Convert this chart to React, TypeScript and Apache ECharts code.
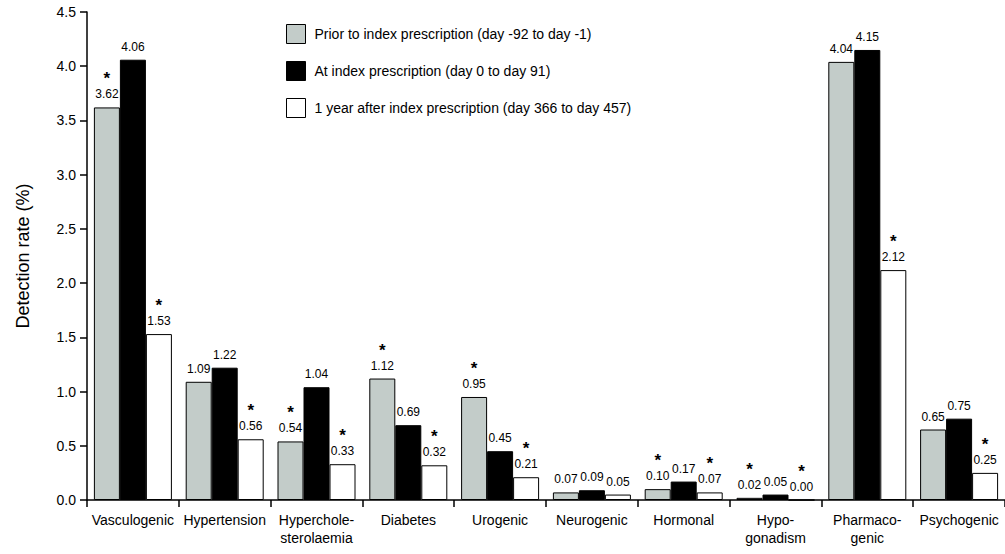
import React, { useEffect, useRef } from "react";
import * as echarts from "echarts";

const categories = [
  "Vasculogenic",
  "Hypertension",
  "Hyperchole-\nsterolaemia",
  "Diabetes",
  "Urogenic",
  "Neurogenic",
  "Hormonal",
  "Hypo-\ngonadism",
  "Pharmaco-\ngenic",
  "Psychogenic",
];

const seriesNames = [
  "Prior to index prescription (day -92 to day -1)",
  "At index prescription (day 0 to day 91)",
  "1 year after index prescription (day 366 to day 457)",
];

const priorValues = [3.62, 1.09, 0.54, 1.12, 0.95, 0.07, 0.1, 0.02, 4.04, 0.65];
const atValues = [4.06, 1.22, 1.04, 0.69, 0.45, 0.09, 0.17, 0.05, 4.15, 0.75];
const afterValues = [1.53, 0.56, 0.33, 0.32, 0.21, 0.05, 0.07, 0.0, 2.12, 0.25];

const priorStars = [1, 0, 1, 1, 1, 0, 1, 1, 0, 0];
const atStars = [0, 0, 0, 0, 0, 0, 0, 0, 0, 0];
const afterStars = [1, 1, 1, 1, 1, 0, 1, 1, 1, 1];

const yTicks = [0, 0.5, 1.0, 1.5, 2.0, 2.5, 3.0, 3.5, 4.0, 4.5];

const FONT = "'Liberation Sans', Arial, Helvetica, sans-serif";
const NARROW = "'Liberation Sans Narrow', 'Liberation Sans', Arial, sans-serif";

export default function App() {
  const ref = useRef<HTMLDivElement>(null);

  useEffect(() => {
    if (!ref.current) return;
    const chart = echarts.init(ref.current, undefined, { renderer: "svg" });

    const makeLabel = (stars: number[]) => ({
      show: true,
      position: "top",
      distance: 6,
      color: "#000000",
      formatter: (p: any) => {
        const v = Number(p.value).toFixed(2);
        return stars[p.dataIndex] ? `{s|*}\n{v|${v}}` : `{v|${v}}`;
      },
      rich: {
        s: { fontSize: 17, fontWeight: "bold", fontFamily: FONT, lineHeight: 17, color: "#000000" },
        v: { fontSize: 12, fontFamily: NARROW, lineHeight: 14, color: "#000000" },
      },
    });

    const colors = ["#c3ccc9", "#000000", "#ffffff"];
    const valueSets = [priorValues, atValues, afterValues];
    const starSets = [priorStars, atStars, afterStars];

    const series = seriesNames.map((name, i) => ({
      name,
      type: "bar",
      data: valueSets[i],
      barWidth: 26,
      barGap: "0%",
      itemStyle: { color: colors[i], borderColor: "#000", borderWidth: 1 },
      label: makeLabel(starSets[i]),
    }));

    chart.setOption({
      animation: false,
      backgroundColor: "#fff",
      textStyle: { fontFamily: FONT },
      legend: {
        orient: "vertical",
        left: 281,
        top: 19,
        itemWidth: 19,
        itemHeight: 19,
        itemGap: 17,
        icon: "rect",
        selectedMode: false,
        textStyle: { fontSize: 14, color: "#000", fontFamily: FONT, padding: [0, 0, 0, 4] },
        data: seriesNames.map((n, i) => ({
          name: n,
          itemStyle: { color: colors[i], borderColor: "#000", borderWidth: 1 },
        })),
      },
      grid: { left: 87, top: 12, width: 925, height: 488, containLabel: false },
      xAxis: {
        type: "category",
        data: categories,
        axisLine: { lineStyle: { color: "#000", width: 1.5 } },
        axisTick: { show: true, length: 7, lineStyle: { color: "#000", width: 1.5 } },
        axisLabel: { interval: 0, fontSize: 14, color: "#000", fontFamily: FONT, margin: 11, lineHeight: 18 },
      },
      yAxis: {
        type: "value",
        min: yTicks[0],
        max: yTicks[yTicks.length - 1],
        interval: 0.5,
        name: "Detection rate (%)",
        nameLocation: "middle",
        nameGap: 55,
        nameTextStyle: { fontSize: 18, color: "#000", fontFamily: FONT },
        axisLine: { show: true, lineStyle: { color: "#000", width: 1.5 } },
        axisTick: { show: true, length: 7, lineStyle: { color: "#000", width: 1.5 } },
        axisLabel: {
          fontSize: 14,
          color: "#000",
          fontFamily: FONT,
          margin: 11,
          formatter: (v: number) => v.toFixed(1),
        },
        splitLine: { show: false },
      },
      series,
    });

    return () => chart.dispose();
  }, []);

  return (
    <div
      ref={ref}
      style={{ position: "absolute", left: 0, top: 0, width: 1005, height: 554 }}
    />
  );
}
